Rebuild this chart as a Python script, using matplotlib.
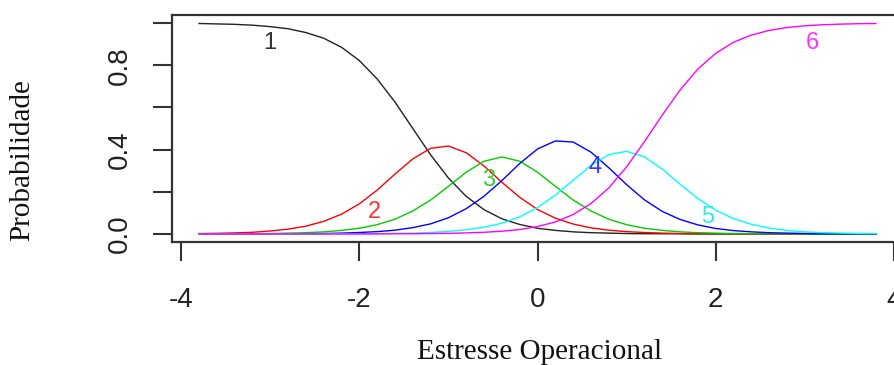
import matplotlib
matplotlib.use("Agg")
import matplotlib.pyplot as plt

# Estresse Operacional grid
theta = [-3.8, -3.6, -3.4, -3.2, -3.0, -2.8, -2.6, -2.4, -2.2, -2.0,
         -1.8, -1.6, -1.4, -1.2, -1.0, -0.8, -0.6, -0.4, -0.2, 0.0,
         0.2, 0.4, 0.6, 0.8, 1.0, 1.2, 1.4, 1.6, 1.8, 2.0,
         2.2, 2.4, 2.6, 2.8, 3.0, 3.2, 3.4, 3.6, 3.8]

# category probabilities
p1 = [0.998, 0.996, 0.994, 0.990, 0.983, 0.973, 0.955, 0.928, 0.885, 0.822,
      0.735, 0.625, 0.500, 0.375, 0.265, 0.178, 0.115, 0.072, 0.045, 0.027,
      0.017, 0.010, 0.006, 0.004, 0.002, 0.001, 0.001, 0.001, 0.000, 0.000,
      0.000, 0.000, 0.000, 0.000, 0.000, 0.000, 0.000, 0.000, 0.000]
p2 = [0.002, 0.003, 0.005, 0.008, 0.014, 0.023, 0.037, 0.060, 0.094, 0.143,
      0.208, 0.284, 0.356, 0.406, 0.417, 0.385, 0.322, 0.245, 0.174, 0.116,
      0.075, 0.047, 0.029, 0.018, 0.011, 0.007, 0.004, 0.002, 0.001, 0.001,
      0.001, 0.000, 0.000, 0.000, 0.000, 0.000, 0.000, 0.000, 0.000]
p3 = [0.000, 0.001, 0.001, 0.001, 0.002, 0.004, 0.006, 0.010, 0.017, 0.027,
      0.044, 0.070, 0.109, 0.161, 0.226, 0.293, 0.345, 0.365, 0.345, 0.293,
      0.226, 0.161, 0.109, 0.070, 0.044, 0.027, 0.017, 0.010, 0.006, 0.004,
      0.002, 0.001, 0.001, 0.001, 0.000, 0.000, 0.000, 0.000, 0.000]
p4 = [0.000, 0.000, 0.000, 0.000, 0.001, 0.001, 0.001, 0.002, 0.004, 0.007,
      0.011, 0.018, 0.030, 0.048, 0.077, 0.120, 0.179, 0.253, 0.334, 0.403,
      0.441, 0.436, 0.388, 0.314, 0.234, 0.162, 0.107, 0.069, 0.043, 0.026,
      0.016, 0.010, 0.006, 0.004, 0.002, 0.001, 0.001, 0.001, 0.000]
p5 = [0.000, 0.000, 0.000, 0.000, 0.000, 0.000, 0.000, 0.000, 0.001, 0.001,
      0.002, 0.003, 0.004, 0.007, 0.012, 0.020, 0.032, 0.051, 0.081, 0.125,
      0.184, 0.254, 0.325, 0.376, 0.392, 0.366, 0.308, 0.236, 0.168, 0.113,
      0.073, 0.046, 0.028, 0.017, 0.010, 0.006, 0.004, 0.002, 0.001]
p6 = [0.000, 0.000, 0.000, 0.000, 0.000, 0.000, 0.000, 0.000, 0.000, 0.000,
      0.000, 0.001, 0.001, 0.002, 0.003, 0.005, 0.008, 0.013, 0.021, 0.035,
      0.057, 0.092, 0.144, 0.218, 0.318, 0.437, 0.563, 0.682, 0.782, 0.856,
      0.909, 0.943, 0.965, 0.979, 0.987, 0.992, 0.995, 0.997, 0.998]

curves = [p1, p2, p3, p4, p5, p6]
names = ["1", "2", "3", "4", "5", "6"]
colors = ["#222222", "#ff0000", "#00cd00", "#0000ff", "#00ffff", "#ff00ff"]
label_x = [-3.01, -1.83, -0.55, 0.65, 1.91, 3.09]
label_y = [0.905, 0.104, 0.256, 0.318, 0.08, 0.905]
label_colors = ["#333333", "#ff3333", "#33cc33", "#3333ff", "#22eeee", "#ff33ff"]

fig = plt.figure(figsize=(8.94, 3.65), dpi=100)
ax = fig.add_axes([0.1924, 0.3359, 0.8177, 0.624])

for y, c in zip(curves, colors):
    ax.plot(theta, y, color=c, linewidth=1.0)

for n, x, y, c in zip(names, label_x, label_y, label_colors):
    ax.text(x, y, n, color=c, fontsize=17, family="Liberation Sans",
            ha="center", va="center")

ax.set_xlim(-4.104, 4.104)
ax.set_ylim(-0.04, 1.04)
ax.set_xticks([-4, -2, 0, 2, 4])
ax.set_xticklabels(["-4", "-2", "0", "2", "4"])
ax.set_yticks([0.0, 0.2, 0.4, 0.6, 0.8, 1.0])
ax.set_yticklabels(["0.0", "", "0.4", "", "0.8", ""])

for lab in ax.get_xticklabels() + ax.get_yticklabels():
    lab.set_family("Liberation Sans")
    lab.set_fontsize(20)
    lab.set_color("#222222")
for lab in ax.get_yticklabels():
    lab.set_rotation(90)
    lab.set_va("center")

ax.tick_params(axis="both", length=14, width=1.5, color="#333333")
ax.tick_params(axis="x", pad=18)
ax.tick_params(axis="y", pad=14)
for s in ax.spines.values():
    s.set_linewidth(1.6)
    s.set_color("#333333")

fig.text(540 / 894, 1 - 352 / 365, "Estresse Operacional",
         family="Liberation Serif", fontsize=21, ha="center", va="center",
         color="#111111")
fig.text(22 / 894, 1 - 160 / 365, "Probabilidade",
         family="Liberation Serif", fontsize=21, ha="center", va="center",
         rotation=90, color="#111111")

fig.savefig("out.png", dpi=100)
